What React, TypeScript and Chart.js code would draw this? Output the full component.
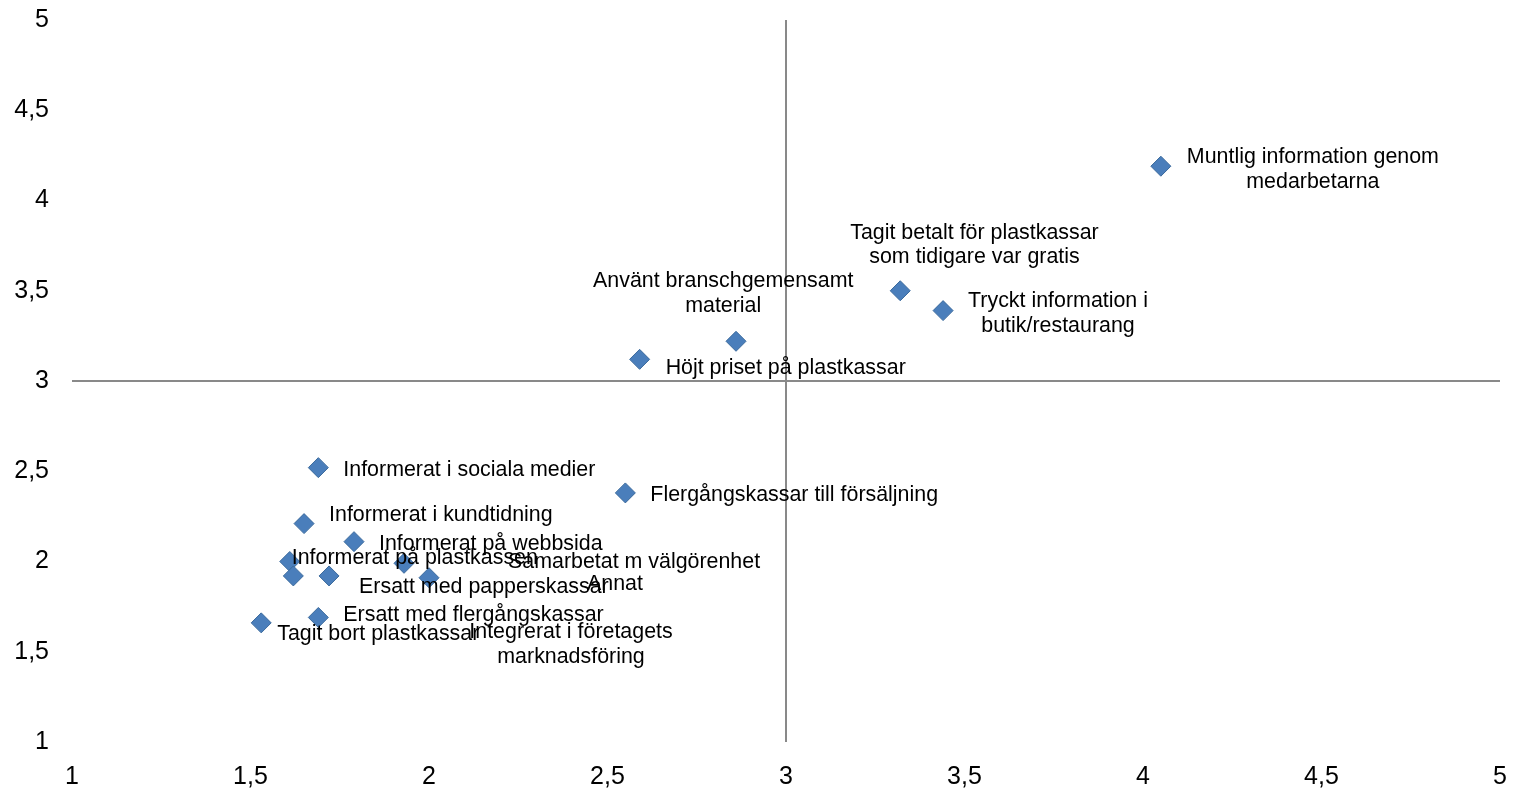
import React, { useEffect, useRef } from "react";
import { Chart, registerables } from "chart.js";

Chart.register(...registerables);

// ---- Data ----
const pointLabels: string[][] = [
  ["Muntlig information genom", "medarbetarna"],
  ["Tagit betalt för plastkassar", "som tidigare var gratis"],
  ["Tryckt information i", "butik/restaurang"],
  ["Använt branschgemensamt", "material"],
  ["Höjt priset på plastkassar"],
  ["Informerat i sociala medier"],
  ["Flergångskassar till försäljning"],
  ["Informerat i kundtidning"],
  ["Informerat på webbsida"],
  ["Informerat på plastkassen"],
  ["Samarbetat m välgörenhet"],
  ["Ersatt med papperskassar"],
  ["Annat"],
  ["Ersatt med flergångskassar"],
  ["Tagit bort plastkassar"],
  ["Integrerat i företagets", "marknadsföring"],
];

const xValues = [4.05, 3.32, 3.44, 2.86, 2.59, 1.69, 2.55, 1.65, 1.79, 1.61, 1.93, 1.72, 2.0, 1.69, 1.53, 1.62];
const yValues = [4.19, 3.5, 3.39, 3.22, 3.12, 2.52, 2.38, 2.21, 2.11, 2.0, 1.99, 1.92, 1.91, 1.69, 1.66, 1.92];

const axisMin = 1;
const axisMax = 5;
const axisStep = 0.5;
const crossValue = 3;

// ---- Label layout (pixel offsets of each label box relative to its marker) ----
const labelDx = [26, -50, 25, -143, 26, 25, 25, 25, 25, 2, 104, 30, 158, 25, 16, 176];
const labelDy = [3.5, -45.5, 3, -47.5, 8.5, 2.5, 2.5, -8.5, 2.5, -3.5, -1.5, 11.5, 6.5, -2.5, 11.5, 68.5];

const FONT = '"Liberation Sans", Arial, Helvetica, sans-serif';

const crossLinesPlugin = {
  id: "crossLines",
  beforeDatasetsDraw(chart: any) {
    const { ctx, chartArea, scales } = chart;
    const px = scales.x.getPixelForValue(crossValue);
    const py = scales.y.getPixelForValue(crossValue);
    ctx.save();
    ctx.strokeStyle = "#898989";
    ctx.lineWidth = 2;
    ctx.beginPath();
    ctx.moveTo(px, chartArea.top);
    ctx.lineTo(px, chartArea.bottom);
    ctx.moveTo(chartArea.left, py);
    ctx.lineTo(chartArea.right, py);
    ctx.stroke();
    ctx.restore();
  },
};

const pointLabelPlugin = {
  id: "pointLabels",
  afterDatasetsDraw(chart: any) {
    const { ctx } = chart;
    const meta = chart.getDatasetMeta(0);
    ctx.save();
    ctx.font = `21.4px ${FONT}`;
    ctx.fillStyle = "#000000";
    ctx.textBaseline = "middle";
    ctx.textAlign = "center";
    const lineH = 24.5;
    meta.data.forEach((el: any, i: number) => {
      const lines = pointLabels[i];
      const w = Math.max(...lines.map((l) => ctx.measureText(l).width));
      const left = el.x + labelDx[i];
      const cy = el.y + labelDy[i];
      const startY = cy - ((lines.length - 1) * lineH) / 2;
      lines.forEach((l, k) => {
        ctx.fillText(l, left + w / 2, startY + k * lineH);
      });
    });
    ctx.restore();
  },
};

export default function App() {
  const canvasRef = useRef<HTMLCanvasElement | null>(null);

  useEffect(() => {
    if (!canvasRef.current) return;
    const chart = new Chart(canvasRef.current, {
      type: "scatter",
      data: {
        datasets: [
          {
            data: xValues.map((x, i) => ({ x, y: yValues[i] })),
            pointStyle: "rectRot",
            pointRadius: 10,
            pointHoverRadius: 10,
            backgroundColor: "#4A7EBB",
            borderColor: "#3B6A9C",
            borderWidth: 1,
          },
        ],
      },
      options: {
        animation: false,
        responsive: true,
        maintainAspectRatio: false,
        layout: { padding: { top: 20, right: 16, left: 0, bottom: 0 } },
        plugins: {
          legend: { display: false },
          tooltip: { enabled: false },
          title: { display: false },
        },
        scales: {
          x: {
            type: "linear",
            min: axisMin,
            max: axisMax,
            grid: { display: false, drawTicks: false },
            border: { display: false },
            ticks: {
              stepSize: axisStep,
              padding: 20,
              maxRotation: 0,
              autoSkip: false,
              color: "#000000",
              font: { family: FONT, size: 25 },
              callback: (v: any) => String(v).replace(".", ","),
            },
            afterFit: (scale: any) => {
              scale.height = 47;
              scale.paddingLeft = 0;
              scale.paddingRight = 0;
            },
          },
          y: {
            type: "linear",
            min: axisMin,
            max: axisMax,
            grid: { display: false, drawTicks: false },
            border: { display: false },
            ticks: {
              stepSize: axisStep,
              padding: 23,
              autoSkip: false,
              color: "#000000",
              font: { family: FONT, size: 25 },
              callback: (v: any) => String(v).replace(".", ","),
            },
            afterFit: (scale: any) => {
              scale.width = 72;
              scale.paddingTop = 0;
              scale.paddingBottom = 0;
            },
          },
        },
      },
      plugins: [crossLinesPlugin, pointLabelPlugin],
    });
    return () => chart.destroy();
  }, []);

  return (
    <div
      style={{
        position: "fixed",
        left: 0,
        top: 0,
        width: 1516,
        height: 789,
        background: "#ffffff",
      }}
    >
      <canvas ref={canvasRef} />
    </div>
  );
}
